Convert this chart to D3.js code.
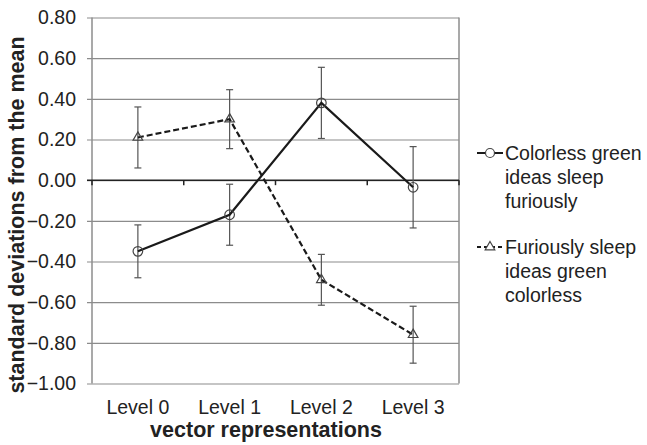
<!DOCTYPE html>
<html>
<head>
<meta charset="utf-8">
<script src="https://cdn.jsdelivr.net/npm/d3@7"></script>
<style>
  body { margin: 0; background: #fff; }
  text { font-family: "Liberation Sans", Arial, sans-serif; fill: #222; }
</style>
</head>
<body>
<div id="chart"></div>
<script>
// data
var levels = ["Level 0", "Level 1", "Level 2", "Level 3"];
var colorless = [-0.35, -0.17, 0.38, -0.035];
var colorlessErr = [0.13, 0.15, 0.175, 0.20];
var furiously = [0.21, 0.30, -0.49, -0.76];
var furiouslyErr = [0.15, 0.145, 0.125, 0.14];
var yTicks = [-1.0, -0.8, -0.6, -0.4, -0.2, 0.0, 0.2, 0.4, 0.6, 0.8];
var seriesNames = [["Colorless green", "ideas sleep", "furiously"],
                   ["Furiously sleep", "ideas green", "colorless"]];

var w = 647, h = 445;
// note: "top" is taken by window.top, so plot edges get their own names
var plotLeft = 92, plotRight = 459, plotTop = 17.5, plotBottom = 383.5;

var svg = d3.select("#chart").append("svg")
    .attr("width", w)
    .attr("height", h);

var x = d3.scaleBand().domain(levels).range([plotLeft, plotRight]);
var y = d3.scaleLinear().domain([-1, 0.8]).range([plotBottom, plotTop]);

var grey = "#8c8c8c";

// gridlines + y axis ticks
var yAxis = d3.axisLeft(y)
    .tickValues(yTicks)
    .tickFormat(d3.format(".2f"))
    .tickSize(-(plotRight - plotLeft))
    .tickPadding(16);

var gy = svg.append("g")
    .attr("transform", "translate(" + plotLeft + ",0)")
    .call(yAxis);
gy.select(".domain").remove();
gy.selectAll(".tick line")
    .attr("x1", -5)
    .attr("stroke", grey)
    .attr("stroke-width", 1.2);
gy.selectAll(".tick text")
    .style("font-size", "19.5px")
    .style("font-family", "Liberation Sans, Arial, sans-serif")
    .attr("fill", "#222");

// left axis and right border
svg.append("line")
    .attr("x1", plotLeft).attr("x2", plotLeft)
    .attr("y1", plotTop).attr("y2", plotBottom)
    .attr("stroke", grey).attr("stroke-width", 1.5);
svg.append("line")
    .attr("x1", plotRight).attr("x2", plotRight)
    .attr("y1", plotTop).attr("y2", plotBottom)
    .attr("stroke", grey).attr("stroke-width", 1.5);

// x axis on zero line
var xAxis = d3.axisBottom(x).tickSize(0).tickFormat("");
var gx = svg.append("g")
    .attr("transform", "translate(0," + y(0) + ")")
    .call(xAxis);
gx.select(".domain")
    .attr("stroke", "#222")
    .attr("stroke-width", 1.5)
    .attr("d", "M" + (plotLeft - 5) + ",0H" + plotRight);

// ticks between categories
var bounds = levels.map(function(d) { return x(d); }).concat([plotRight]);
svg.selectAll("line.xtick")
    .data(bounds)
    .enter()
    .append("line")
    .attr("class", "xtick")
    .attr("x1", function(d) { return d; })
    .attr("x2", function(d) { return d; })
    .attr("y1", y(0))
    .attr("y2", y(0) + 5)
    .attr("stroke", "#222")
    .attr("stroke-width", 1.5);

// category labels
svg.selectAll("text.level")
    .data(levels)
    .enter()
    .append("text")
    .attr("class", "level")
    .attr("x", function(d) { return x(d) + x.bandwidth() / 2; })
    .attr("y", 414)
    .attr("text-anchor", "middle")
    .style("font-size", "19.5px")
    .text(function(d) { return d; });

// axis titles
svg.append("text")
    .attr("x", 266)
    .attr("y", 437)
    .attr("text-anchor", "middle")
    .style("font-size", "21.5px")
    .style("font-weight", "bold")
    .text("vector representations");

svg.append("text")
    .attr("transform", "translate(24,215) rotate(-90)")
    .attr("text-anchor", "middle")
    .style("font-size", "21.5px")
    .style("font-weight", "bold")
    .text("standard deviations from the mean");

var cx = function(d, i) { return x(levels[i]) + x.bandwidth() / 2; };

function errorBars(vals, errs, cls) {
    var g = svg.append("g").attr("class", cls);
    vals.forEach(function(v, i) {
        var px = cx(v, i);
        var y1 = y(v + errs[i]), y2 = y(v - errs[i]);
        g.append("line").attr("x1", px).attr("x2", px).attr("y1", y1).attr("y2", y2);
        g.append("line").attr("x1", px - 3.5).attr("x2", px + 3.5).attr("y1", y1).attr("y2", y1);
        g.append("line").attr("x1", px - 3.5).attr("x2", px + 3.5).attr("y1", y2).attr("y2", y2);
    });
    g.selectAll("line").attr("stroke", "#555").attr("stroke-width", 1.2);
}

errorBars(colorless, colorlessErr, "err1");
errorBars(furiously, furiouslyErr, "err2");

var line = d3.line()
    .x(function(d, i) { return cx(d, i); })
    .y(function(d) { return y(d); });

svg.append("path")
    .datum(colorless)
    .attr("d", line)
    .attr("fill", "none")
    .attr("stroke", "#1a1a1a")
    .attr("stroke-width", 2.2);

svg.append("path")
    .datum(furiously)
    .attr("d", line)
    .attr("fill", "none")
    .attr("stroke", "#1a1a1a")
    .attr("stroke-width", 2.2)
    .attr("stroke-dasharray", "6,3");

var tri = d3.symbol().type(d3.symbolTriangle).size(40);

svg.selectAll("circle.m1")
    .data(colorless)
    .enter()
    .append("circle")
    .attr("class", "m1")
    .attr("cx", cx)
    .attr("cy", function(d) { return y(d); })
    .attr("r", 4.8)
    .attr("fill", "none")
    .attr("stroke", "#444")
    .attr("stroke-width", 1.2);

svg.selectAll("path.m2")
    .data(furiously)
    .enter()
    .append("path")
    .attr("class", "m2")
    .attr("d", tri)
    .attr("transform", function(d, i) { return "translate(" + cx(d, i) + "," + y(d) + ")"; })
    .attr("fill", "none")
    .attr("stroke", "#444")
    .attr("stroke-width", 1.2);

// legend
var legendY = [153, 247];
var lg = svg.append("g");
lg.append("line")
    .attr("x1", 477).attr("x2", 503).attr("y1", legendY[0]).attr("y2", legendY[0])
    .attr("stroke", "#1a1a1a").attr("stroke-width", 2);
lg.append("circle")
    .attr("cx", 490).attr("cy", legendY[0]).attr("r", 4.5)
    .attr("fill", "#fff").attr("stroke", "#444").attr("stroke-width", 1.2);
lg.append("line")
    .attr("x1", 477).attr("x2", 503).attr("y1", legendY[1]).attr("y2", legendY[1])
    .attr("stroke", "#1a1a1a").attr("stroke-width", 2)
    .attr("stroke-dasharray", "4,3");
lg.append("path")
    .attr("d", tri)
    .attr("transform", "translate(490," + legendY[1] + ")")
    .attr("fill", "#fff").attr("stroke", "#444").attr("stroke-width", 1.2);

seriesNames.forEach(function(lines, k) {
    lines.forEach(function(t, j) {
        lg.append("text")
            .attr("x", 505)
            .attr("y", legendY[k] + 7 + j * 24)
            .style("font-size", "19.5px")
            .text(t);
    });
});
</script>
</body>
</html>
